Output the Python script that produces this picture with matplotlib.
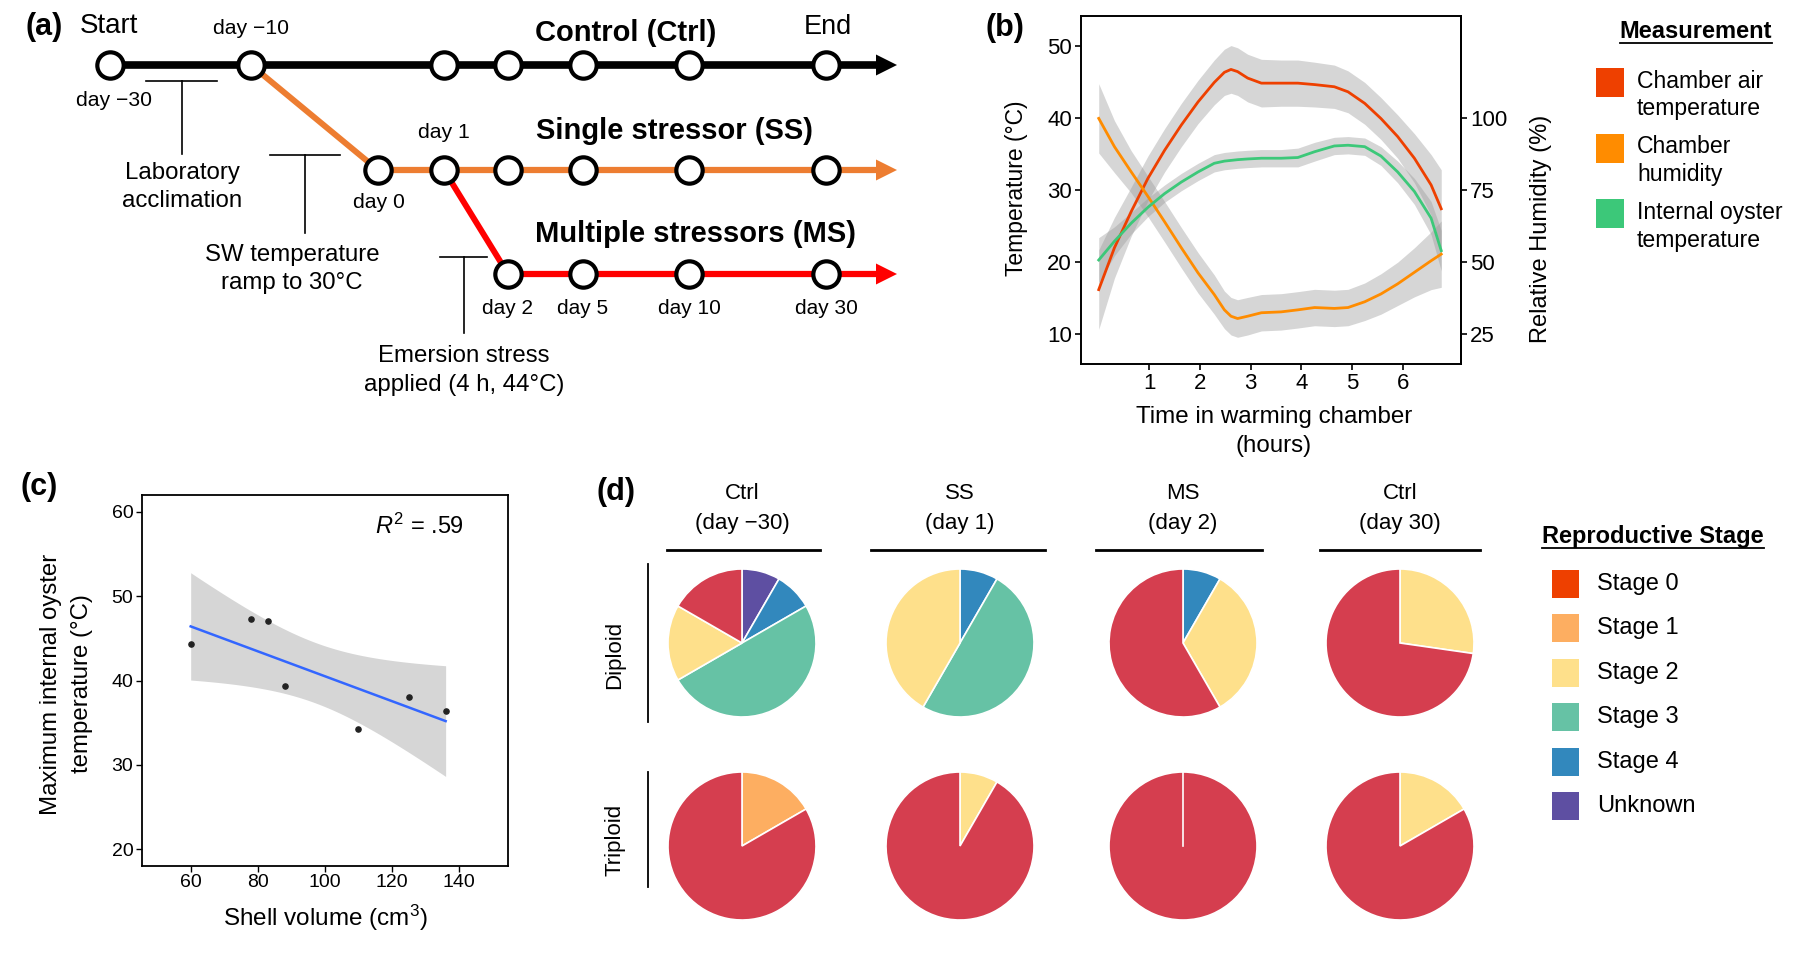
import numpy as np
import matplotlib
matplotlib.use('Agg')
import matplotlib.pyplot as plt
from matplotlib.lines import Line2D

plt.rcParams['font.family'] = ['Liberation Sans', 'DejaVu Sans']
plt.rcParams['mathtext.fontset'] = 'custom'
plt.rcParams['mathtext.rm'] = 'Liberation Sans'
plt.rcParams['mathtext.it'] = 'Liberation Sans:italic'

# ---------------- data ----------------
# (a) experimental timeline
timepoints = ['day −30', 'day −10', 'day 0', 'day 1', 'day 2', 'day 5', 'day 10', 'day 30']
ctrl_nodes = ['day −30', 'day −10', 'day 1', 'day 2', 'day 5', 'day 10', 'day 30']
ss_nodes = ['day 0', 'day 1', 'day 2', 'day 5', 'day 10', 'day 30']
ms_nodes = ['day 2', 'day 5', 'day 10', 'day 30']

# (b) warming chamber (hours, smoothed values, ribbon half-widths)
hours = [0.00, 0.31, 0.64, 0.97, 1.30, 1.63, 1.96, 2.28, 2.48, 2.61, 2.74, 2.94,
         3.21, 3.60, 3.93, 4.26, 4.65, 4.92, 5.25, 5.57, 5.90, 6.23, 6.56, 6.76]
air_temp = [16.2, 22.0, 27.0, 31.6, 35.5, 39.0, 42.2, 44.9, 46.3, 46.7, 46.4, 45.5,
            44.8, 44.8, 44.8, 44.6, 44.3, 43.6, 42.0, 39.9, 37.4, 34.4, 30.7, 27.4]
air_temp_ci = [5.5, 4.2, 3.4, 3.1, 3.0, 3.0, 3.0, 3.1, 3.2, 3.3, 3.3, 3.3,
               3.3, 3.2, 3.2, 3.1, 3.0, 2.9, 2.9, 2.9, 3.0, 3.4, 4.2, 5.4]
humidity = [99.8, 90.0, 81.3, 72.8, 64.0, 55.0, 46.3, 38.8, 33.5, 31.3, 30.5, 31.3,
            32.5, 32.8, 33.5, 34.3, 34.0, 34.3, 36.3, 39.0, 42.5, 46.5, 50.5, 52.8]
humidity_ci = [12.0, 9.0, 7.3, 7.0, 7.0, 7.0, 7.0, 6.8, 6.5, 6.5, 6.5, 6.5,
               6.3, 6.3, 6.3, 6.3, 6.3, 6.3, 6.5, 7.0, 7.5, 8.5, 10.0, 11.5]
oyster_temp = [20.3, 22.9, 25.4, 27.6, 29.5, 31.1, 32.5, 33.7, 34.0, 34.1, 34.2, 34.3,
               34.4, 34.4, 34.5, 35.3, 36.1, 36.2, 36.0, 34.7, 32.5, 29.8, 26.1, 21.6]
oyster_temp_ci = [3.1, 2.0, 1.5, 1.3, 1.2, 1.2, 1.2, 1.2, 1.2, 1.2, 1.2, 1.2,
                  1.2, 1.2, 1.3, 1.3, 1.2, 1.2, 1.2, 1.3, 1.5, 1.8, 2.3, 2.8]
measure_names = ['Chamber air\ntemperature', 'Chamber\nhumidity', 'Internal oyster\ntemperature']
measure_colors = ['#EE4000', '#FF8C00', '#3CC879']

# (c) shell volume vs max internal temperature
shell_volume = [60, 78, 83, 88, 110, 125, 136]
max_temp = [44.3, 47.3, 47.0, 39.3, 34.2, 38.0, 36.4]

# (d) reproductive stage counts
stages = ['Stage 0', 'Stage 1', 'Stage 2', 'Stage 3', 'Stage 4', 'Unknown']
legend_colors = ['#EE4000', '#FDAE61', '#FEE08B', '#66C2A5', '#3288BD', '#5E4FA2']
pie_colors = ['#D53E4F', '#FDAE61', '#FEE08B', '#66C2A5', '#3288BD', '#5E4FA2']
groups = ['Ctrl\n(day −30)', 'SS\n(day 1)', 'MS\n(day 2)', 'Ctrl\n(day 30)']
ploidy = ['Diploid', 'Triploid']
diploid_counts = [[2, 0, 2, 6, 1, 1], [0, 0, 5, 6, 1, 0], [7, 0, 4, 0, 1, 0], [8, 0, 3, 0, 0, 0]]
triploid_counts = [[10, 2, 0, 0, 0, 0], [11, 0, 1, 0, 0, 0], [12, 0, 0, 0, 0, 0], [10, 0, 2, 0, 0, 0]]

# ---------------- figure ----------------
W, H = 1808, 956
fig = plt.figure(figsize=(W / 100, H / 100), dpi=100)


def rect(l, t, r, b):
    return [l / W, 1 - b / H, (r - l) / W, (b - t) / H]


def ftext(x, y, s, **kw):
    kw.setdefault('ha', 'center')
    kw.setdefault('va', 'center')
    return fig.text(x / W, 1 - y / H, s, **kw)


# ======== (a) timeline schematic ========
axa = fig.add_axes(rect(0, 0, 960, 470))
axa.set_xlim(0, 960)
axa.set_ylim(470, 0)
axa.axis('off')
col_x = dict(zip(timepoints, [110, 251, 378, 444, 508, 583, 689, 826]))
row_y = {'ctrl': 65, 'ss': 170, 'ms': 274}
tip = 897
black, orange, red = '#000000', '#ED7D31', '#FF0000'


def branch(nodes, y, color, lw):
    x0 = col_x[nodes[0]]
    axa.plot([x0, tip - 15], [y, y], color=color, lw=lw, solid_capstyle='butt', zorder=1)
    axa.fill([tip - 21, tip, tip - 21], [y - 10.5, y, y + 10.5], color=color, lw=0, zorder=1)
    axa.scatter([col_x[n] for n in nodes], [y] * len(nodes), s=360, facecolor='white',
                edgecolor='black', linewidth=3.0, zorder=3)


axa.plot([col_x['day −10'], col_x['day 0']], [row_y['ctrl'], row_y['ss']], color=orange, lw=4.3, zorder=0)
axa.plot([col_x['day 1'], col_x['day 2']], [row_y['ss'], row_y['ms']], color=red, lw=4.3, zorder=0)
branch(ctrl_nodes, row_y['ctrl'], black, 5.5)
branch(ss_nodes, row_y['ss'], orange, 4.5)
branch(ms_nodes, row_y['ms'], red, 4.5)

# brackets
for (x1, x2, y1, y2) in [(146, 217, 81, 154), (270, 340, 155, 233), (440, 487, 257, 333)]:
    axa.plot([x1, x2], [y1, y1], color='black', lw=1.2)
    axa.plot([(x1 + x2) / 2] * 2, [y1, y2], color='black', lw=1.2)

ftext(44, 27, '(a)', fontsize=22, fontweight='bold')
ftext(109, 26, 'Start', fontsize=20)
ftext(828, 27, 'End', fontsize=19.5)
ftext(251, 28, 'day −10', fontsize=15.2)
ftext(114, 100, 'day −30', fontsize=15.2)
ftext(379, 203, 'day 0', fontsize=15.2)
ftext(444, 133, 'day 1', fontsize=15.2)
for d in ['day 2', 'day 5', 'day 10', 'day 30']:
    ftext(col_x[d], 308, d, fontsize=15)
ftext(535, 33, 'Control (Ctrl)', fontsize=21, fontweight='bold', ha='left')
ftext(536, 131, 'Single stressor (SS)', fontsize=21, fontweight='bold', ha='left')
ftext(535, 234, 'Multiple stressors (MS)', fontsize=21, fontweight='bold', ha='left')
ftext(182, 173, 'Laboratory', fontsize=17.3)
ftext(182, 201, 'acclimation', fontsize=17.3)
ftext(292, 255, 'SW temperature', fontsize=17.3)
ftext(292, 283, 'ramp to 30°C', fontsize=17.3)
ftext(464, 356, 'Emersion stress', fontsize=17.3)
ftext(464, 385, 'applied (4 h, 44°C)', fontsize=17.3)

# ======== (b) warming chamber ========
axb = fig.add_axes(rect(1081, 16, 1461, 364))
t = np.array(hours)
series = [
    (np.array(air_temp), np.array(air_temp_ci)),
    (np.array(humidity) / 2.5, np.array(humidity_ci) / 2.5),
    (np.array(oyster_temp), np.array(oyster_temp_ci)),
]
for v, ci in series:
    axb.fill_between(t, v - ci, v + ci, color='#999999', alpha=0.4, lw=0, zorder=1)
for (v, ci), c in zip(series, measure_colors):
    axb.plot(t, v, color=c, lw=2.0, zorder=3)
axb.set_xlim(-0.35, 7.15)
axb.set_ylim(5.9, 54.1)
axb.set_xticks([1, 2, 3, 4, 5, 6])
axb.set_yticks([10, 20, 30, 40, 50])
axb.tick_params(direction='out', length=4.5, width=1.2, labelsize=16, pad=2, colors='black')
sec = axb.secondary_yaxis('right', functions=(lambda x: x * 2.5, lambda x: x / 2.5))
sec.set_yticks([25, 50, 75, 100])
sec.tick_params(direction='out', length=4.5, width=1.2, labelsize=16, pad=2)
for sp in list(axb.spines.values()) + list(sec.spines.values()):
    sp.set_linewidth(1.4)
ftext(1005, 28, '(b)', fontsize=22, fontweight='bold')
ftext(1017, 188, 'Temperature (°C)', fontsize=16.5, rotation=90)
ftext(1541, 229, 'Relative Humidity (%)', fontsize=17, rotation=90)
ftext(1274, 417, 'Time in warming chamber', fontsize=17.4)
ftext(1274, 446, '(hours)', fontsize=17.4)

meas_title = ftext(1696, 32, 'Measurement', fontsize=17, fontweight='bold')
for i, (name, c) in enumerate(zip(measure_names, measure_colors)):
    top = 68 + i * 65.5
    fig.patches.append(plt.Rectangle((1596 / W, 1 - (top + 29) / H), 28 / W, 29 / H,
                                     transform=fig.transFigure, facecolor=c, edgecolor='none'))
    l1, l2 = name.split('\n')
    ftext(1637, top + 13, l1, fontsize=16.6, ha='left')
    ftext(1637, top + 41, l2, fontsize=16.6, ha='left')

# ======== (c) regression ========
axc = fig.add_axes(rect(141.7, 495, 507.7, 866))
xv = np.array(shell_volume, float)
yv = np.array(max_temp, float)
slope, intercept = np.polyfit(xv, yv, 1)
xx = np.linspace(xv.min(), xv.max(), 100)
yy = intercept + slope * xx
n = len(xv)
resid = yv - (intercept + slope * xv)
s_err = np.sqrt(np.sum(resid ** 2) / (n - 2))
sxx = np.sum((xv - xv.mean()) ** 2)
t_crit = 2.5706  # t(0.975, df=5)
band = t_crit * s_err * np.sqrt(1 / n + (xx - xv.mean()) ** 2 / sxx)
r2 = 1 - np.sum(resid ** 2) / np.sum((yv - yv.mean()) ** 2)
axc.fill_between(xx, yy - band, yy + band, color='#999999', alpha=0.4, lw=0)
axc.plot(xx, yy, color='#3366FF', lw=1.8)
axc.scatter(xv, yv, s=14, color='#222222', zorder=3)
axc.set_xlim(45.4, 154.5)
axc.set_ylim(18, 62)
axc.set_xticks([60, 80, 100, 120, 140])
axc.set_yticks([20, 30, 40, 50, 60])
axc.tick_params(direction='out', length=4, width=1.0, labelsize=14, pad=2, colors='black')
for sp in axc.spines.values():
    sp.set_linewidth(1.3)
axc.text(0.76, 0.915, r'$R^2$ = ' + f'{r2:.2f}'.lstrip('0'), transform=axc.transAxes,
         fontsize=17, ha='center', va='center')
ftext(39, 487, '(c)', fontsize=22, fontweight='bold')
ftext(325, 918, 'Shell volume (cm$^3$)', fontsize=17.5)
ftext(51, 684, 'Maximum internal oyster', fontsize=17.3, rotation=90)
ftext(82, 684, 'temperature (°C)', fontsize=17.3, rotation=90)

# ======== (d) pies ========
col_cx = [742, 960, 1183, 1400]
row_cy = [643, 846]
R = 74
ftext(616, 492, '(d)', fontsize=22, fontweight='bold')
underline_x = [(667, 820), (871, 1045), (1096, 1262), (1320, 1480)]
for g, cx, (u1, u2) in zip(groups, col_cx, underline_x):
    l1, l2 = g.split('\n')
    ftext(cx, 493, l1, fontsize=16)
    ftext(cx, 523, l2, fontsize=16)
    fig.add_artist(Line2D([u1 / W, u2 / W], [1 - 550 / H] * 2, color='black', lw=2.0))
for name, cy, (y1, y2) in zip(ploidy, row_cy, [(564, 722), (772, 887)]):
    ftext(615, cy + (12 if name == 'Diploid' else -6), name, fontsize=16, rotation=90)
    fig.add_artist(Line2D([648.5 / W] * 2, [1 - y1 / H, 1 - y2 / H], color='black', lw=1.3))

for r, counts_row in enumerate([diploid_counts, triploid_counts]):
    for c, counts in enumerate(counts_row):
        cx, cy = col_cx[c], row_cy[r]
        pad = 1.03
        ax = fig.add_axes(rect(cx - R * pad, cy - R * pad, cx + R * pad, cy + R * pad))
        vals = [v for v in counts[::-1] if v > 0]
        cols = [pc for v, pc in zip(counts[::-1], pie_colors[::-1]) if v > 0]
        ax.pie(vals, colors=cols, startangle=90, counterclock=False, radius=1,
               wedgeprops=dict(edgecolor='white', linewidth=1.2))
        if len(vals) == 1:
            ax.plot([0, 0], [0, 1], color='white', lw=1.2)
        ax.set_xlim(-pad, pad)
        ax.set_ylim(-pad, pad)
        ax.set_aspect('equal')

rep_title = ftext(1653, 536, 'Reproductive Stage', fontsize=17, fontweight='bold')
for i, (sname, lc) in enumerate(zip(stages, legend_colors)):
    top = 570 + i * 44.4
    fig.patches.append(plt.Rectangle((1552 / W, 1 - (top + 28) / H), 27 / W, 28 / H,
                                     transform=fig.transFigure, facecolor=lc, edgecolor='none'))
    ftext(1597, top + 14, sname, fontsize=17, ha='left')

# underlines for legend titles
fig.canvas.draw()
rend = fig.canvas.get_renderer()
for txt, uy in [(meas_title, 43), (rep_title, 548)]:
    bb = txt.get_window_extent(renderer=rend)
    fig.add_artist(Line2D([bb.x0 / W, bb.x1 / W], [1 - uy / H] * 2, color='black', lw=1.3))

fig.savefig('out.png', dpi=100, facecolor='white')
